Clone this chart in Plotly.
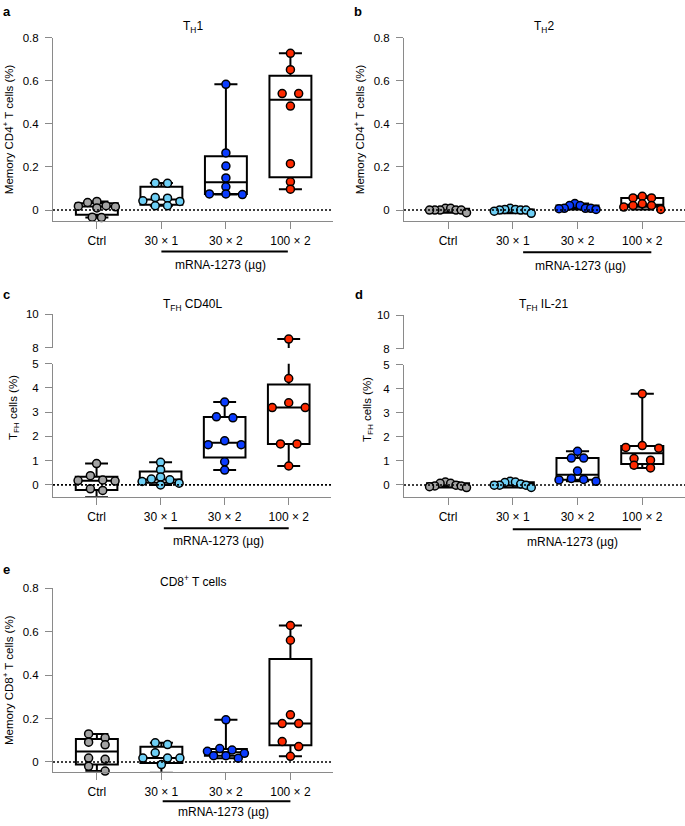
import numpy as np
import plotly.graph_objects as go

W, H = 685, 826

# ---------------- data ----------------
groups = ["Ctrl", "30 × 1", "30 × 2", "100 × 2"]
colors = ["#a3a3a3", "#6ecff5", "#0b3cff", "#ff2a00"]

th1_ctrl = [0.04, 0.035, 0.02, 0.018, 0.015, 0.01, -0.033, -0.035]
th1_30x1 = [0.126, 0.124, 0.058, 0.055, 0.043, 0.04, 0.02, 0.02]
th1_30x2 = [0.583, 0.265, 0.204, 0.149, 0.108, 0.075, 0.075, 0.072]
th1_100x2 = [0.727, 0.651, 0.54, 0.54, 0.482, 0.215, 0.131, 0.097]

th2_ctrl = [0.008, 0.008, 0.0, 0.0, 0.0, 0.0, 0.0, -0.012]
th2_30x1 = [0.008, 0.003, 0.003, 0.0, 0.0, 0.0, -0.005, -0.015]
th2_30x2 = [0.03, 0.021, 0.021, 0.008, 0.008, 0.008, 0.006, 0.003]
th2_100x2 = [0.064, 0.056, 0.056, 0.029, 0.021, 0.021, 0.014, 0.003]

cd40l_ctrl = [0.88, 0.38, 0.2, 0.18, 0.16, -0.16, -0.23, -0.5]
cd40l_30x1 = [0.93, 0.63, 0.33, 0.24, 0.21, 0.14, 0.07, 0.0]
cd40l_30x2 = [3.42, 2.81, 2.77, 1.82, 1.66, 1.66, 0.95, 0.61]
cd40l_100x2 = [8.53, 4.39, 3.39, 3.19, 3.19, 1.69, 1.69, 0.78]

il21_ctrl = [0.12, 0.07, 0.07, -0.01, -0.04, -0.04, -0.07, -0.11]
il21_30x1 = [0.15, 0.12, 0.1, 0.04, -0.01, -0.01, -0.01, -0.1]
il21_30x2 = [1.4, 1.12, 1.12, 0.58, 0.27, 0.23, 0.21, 0.15]
il21_100x2 = [3.79, 1.64, 1.56, 1.53, 1.1, 1.03, 0.82, 0.71]

cd8_ctrl = [0.129, 0.111, 0.091, 0.079, 0.018, 0.012, -0.02, -0.042]
cd8_30x1 = [0.088, 0.08, 0.042, 0.018, 0.018, 0.018, -0.012, -0.05]
cd8_30x2 = [0.194, 0.062, 0.055, 0.049, 0.04, 0.029, 0.029, 0.017]
cd8_100x2 = [0.629, 0.561, 0.217, 0.177, 0.177, 0.094, 0.071, 0.026]

pct_ticks = [0, 0.2, 0.4, 0.6, 0.8]
pct_ticktext = ["0", "0.2", "0.4", "0.6", "0.8"]
tfh_low_ticks = [0, 1, 2, 3, 4, 5]
tfh_high_ticks = [8, 10]

# ---------------- helpers ----------------
def pxx(p):
    return p / W


def pxy(p):
    return 1 - p / H


def swarm(vals, to_px, ppx, thr=6.5, smax=16.5, wmax=37.0):
    """Row-based dot arrangement: nearby values share a row, spread symmetrically."""
    vals = np.asarray(vals, dtype=float)
    pys = np.array([to_px(v) for v in vals])
    order = np.argsort(-vals, kind="stable")
    rows = []
    for idx in order:
        if rows and abs(pys[rows[-1][0]] - pys[idx]) < thr:
            rows[-1].append(idx)
        else:
            rows.append([idx])
    kmax = max(len(r) for r in rows)
    s = smax if kmax < 2 else min(smax, wmax / (kmax - 1))
    offs = np.zeros(len(vals))
    for r in rows:
        k = len(r)
        pos = [(j - (k - 1) / 2) * s for j in range(k)]
        pos_order = sorted(range(k), key=lambda j: (abs(pos[j]), pos[j]))
        for idx, pj in zip(r, pos_order):
            offs[idx] = pos[pj] / ppx
    return offs


def box_stats(vals):
    v = np.asarray(vals, dtype=float)
    q1, med, q3 = np.percentile(v, [25, 50, 75], method="weibull")
    return q1, med, q3, v.min(), v.max()


axc = "#8a8a8a"
FONT = "Liberation Sans, Arial, Helvetica, sans-serif"
XR = [-0.68, 3.66]

fig = go.Figure()

panels = [
    dict(x="x", xdom=(53, 333), data=[th1_ctrl, th1_30x1, th1_30x2, th1_100x2],
         ys=[dict(id="y", rng=[-0.05, 0.8], dom=(32, 218), tv=pct_ticks, tt=pct_ticktext, lo=-1, hi=1)]),
    dict(x="x2", xdom=(404, 685), data=[th2_ctrl, th2_30x1, th2_30x2, th2_100x2],
         ys=[dict(id="y2", rng=[-0.05, 0.8], dom=(32, 218), tv=pct_ticks, tt=pct_ticktext, lo=-1, hi=1)]),
    dict(x="x3", xdom=(53, 331), data=[cd40l_ctrl, cd40l_30x1, cd40l_30x2, cd40l_100x2],
         ys=[dict(id="y3", rng=[-0.49, 5], dom=(363, 498), tv=tfh_low_ticks, tt=[str(t) for t in tfh_low_ticks], lo=-1, hi=5.2),
             dict(id="y4", rng=[8, 10], dom=(313, 347), tv=tfh_high_ticks, tt=[str(t) for t in tfh_high_ticks], lo=7.8, hi=11)]),
    dict(x="x4", xdom=(404, 685), data=[il21_ctrl, il21_30x1, il21_30x2, il21_100x2],
         ys=[dict(id="y5", rng=[-0.49, 5], dom=(364, 498), tv=tfh_low_ticks, tt=[str(t) for t in tfh_low_ticks], lo=-1, hi=5.2),
             dict(id="y6", rng=[8, 10], dom=(314, 348), tv=tfh_high_ticks, tt=[str(t) for t in tfh_high_ticks], lo=7.8, hi=11)]),
    dict(x="x5", xdom=(53, 333), data=[cd8_ctrl, cd8_30x1, cd8_30x2, cd8_100x2],
         ys=[dict(id="y7", rng=[-0.045, 0.8], dom=(591, 777), tv=pct_ticks, tt=pct_ticktext, lo=-1, hi=1)]),
]

layout_axes = {}
shapes = []

for P in panels:
    xd = P["xdom"]
    ppx = (xd[1] - xd[0]) / (XR[1] - XR[0])
    main = P["ys"][0]

    def to_px_factory(ys):
        def f(v):
            for yy in ys:
                if yy["lo"] <= v <= yy["hi"]:
                    top, bot = yy["dom"]
                    r0, r1 = yy["rng"]
                    return bot - (v - r0) / (r1 - r0) * (bot - top)
            return 0
        return f

    to_px = to_px_factory(P["ys"])
    for yy in P["ys"]:
        for gi, vals in enumerate(P["data"]):
            q1, med, q3, mn, mx = box_stats(vals)
            fig.add_trace(go.Box(
                x=[gi], q1=[q1], median=[med], q3=[q3], lowerfence=[mn], upperfence=[mx],
                width=0.65, whiskerwidth=0.55, boxpoints=False,
                line=dict(color="black", width=2), fillcolor="white",
                xaxis=P["x"], yaxis=yy["id"], showlegend=False, hoverinfo="skip"))
    for yy in P["ys"]:
        for gi, vals in enumerate(P["data"]):
            offs = swarm(vals, to_px, ppx)
            xs = [gi + o for o, v in zip(offs, vals) if yy["lo"] <= v <= yy["hi"]]
            ysv = [v for v in vals if yy["lo"] <= v <= yy["hi"]]
            if not ysv:
                continue
            fig.add_trace(go.Scatter(
                x=xs, y=ysv, mode="markers", cliponaxis=False,
                marker=dict(size=8, color=colors[gi], line=dict(color="black", width=1.5)),
                xaxis=P["x"], yaxis=yy["id"], showlegend=False, hoverinfo="skip"))

    xkey = "xaxis" + P["x"][1:]
    layout_axes[xkey] = dict(
        domain=[pxx(xd[0]), pxx(xd[1])], range=XR, anchor=main["id"],
        tickmode="array", tickvals=[0, 1, 2, 3], ticktext=groups,
        showline=True, linecolor=axc, linewidth=1, ticks="outside", ticklen=7,
        tickcolor=axc, tickwidth=1, showgrid=False, zeroline=False,
        tickfont=dict(size=12, color="black", family=FONT), ticklabelstandoff=2)
    for yy in P["ys"]:
        ykey = "yaxis" + yy["id"][1:]
        layout_axes[ykey] = dict(
            domain=[pxy(yy["dom"][1]), pxy(yy["dom"][0])], range=yy["rng"], anchor=P["x"],
            tickmode="array", tickvals=yy["tv"], ticktext=yy["tt"],
            showline=True, linecolor=axc, linewidth=1, ticks="outside", ticklen=7,
            tickcolor=axc, tickwidth=1, showgrid=False, zeroline=False,
            tickfont=dict(size=11.5, color="black", family=FONT), ticklabelstandoff=4)
    shapes.append(dict(type="line", xref=P["x"] + " domain", yref=main["id"],
                       x0=0, x1=1, y0=0, y1=0,
                       line=dict(color="black", width=1.6, dash="2px,2px")))

bars = [("x", 1.0, 2.96, 249, 1.91, 263),
        ("x2", 1.16, 3.14, 250, 2.04, 264),
        ("x3", 1.05, 3.0, 530, 1.91, 543),
        ("x4", 1.0, 2.98, 531, 1.93, 544),
        ("x5", 1.02, 3.0, 807, 1.97, 818)]
annotations = []
for xr, x0, x1, by, lx, ly in bars:
    shapes.append(dict(type="line", xref=xr, yref="paper", x0=x0, x1=x1,
                       y0=pxy(by), y1=pxy(by), line=dict(color="black", width=2)))
    annotations.append(dict(text="mRNA-1273 (µg)", xref=xr, yref="paper", x=lx, y=pxy(ly),
                            showarrow=False, xanchor="center", yanchor="middle",
                            font=dict(size=12, color="black", family=FONT)))

titles = [("T<sub>H</sub>1", 193, 21), ("T<sub>H</sub>2", 544, 21),
          ("T<sub>FH</sub> CD40L", 193, 303), ("T<sub>FH</sub> IL-21", 544, 303),
          ("CD8<sup>+</sup> T cells", 193, 583)]
for t, x, y in titles:
    annotations.append(dict(text=t, xref="paper", yref="paper", x=pxx(x), y=pxy(y),
                            showarrow=False, xanchor="center", yanchor="middle",
                            font=dict(size=12, color="black", family=FONT)))

letters = [("a", 1, 6), ("b", 352, 6), ("c", 1, 293), ("d", 353, 293), ("e", 1, 572)]
for t, x, y in letters:
    annotations.append(dict(text="<b>%s</b>" % t, xref="paper", yref="paper", x=pxx(x), y=pxy(y),
                            showarrow=False, xanchor="left", yanchor="middle",
                            font=dict(size=13, color="black", family=FONT)))

ytitles = [("Memory CD4<sup>+</sup> T cells (%)", 8, 125),
           ("Memory CD4<sup>+</sup> T cells (%)", 359, 125),
           ("T<sub>FH</sub> cells (%)", 14, 408),
           ("T<sub>FH</sub> cells (%)", 368, 410),
           ("Memory CD8<sup>+</sup> T cells (%)", 8, 684)]
for t, x, y in ytitles:
    annotations.append(dict(text=t, xref="paper", yref="paper", x=pxx(x), y=pxy(y),
                            showarrow=False, xanchor="center", yanchor="middle", textangle=-90,
                            font=dict(size=11.5, color="black", family=FONT)))

fig.update_layout(
    width=W, height=H, margin=dict(l=0, r=0, t=0, b=0), autosize=False,
    paper_bgcolor="white", plot_bgcolor="white", showlegend=False,
    font=dict(family=FONT, size=12, color="black"),
    shapes=shapes, annotations=annotations, **layout_axes)

fig.write_html("out.html",
               config={"displayModeBar": False, "staticPlot": True},
               post_script="document.body.style.margin='0px';document.body.style.padding='0px';"
                           "document.documentElement.style.overflow='hidden';")
